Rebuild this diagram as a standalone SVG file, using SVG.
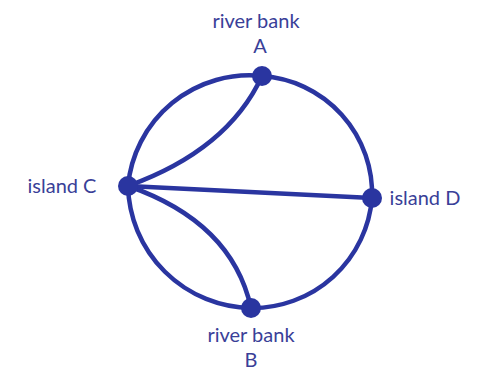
<svg xmlns="http://www.w3.org/2000/svg" width="487" height="377" viewBox="0 0 487 377">
<style>
.e{fill:none;stroke:#2a35a0;stroke-width:4.5;stroke-linecap:round}
.n{fill:#2a35a0}
.t{font-family:"Lato","Noto Sans",sans-serif;font-size:20px;fill:#3a3f98;text-anchor:middle}
</style>
<rect width="487" height="377" fill="#fff"/>
<g id="connectors">
<path class="e" d="M262,76 A122,122 0 0 0 128,186"/>
<path class="e" d="M128,186 Q228,150 262,76"/>
<path class="e" d="M262,76 A118,118 0 0 1 372,198"/>
<path class="e" d="M128,186 L372,198"/>
<path class="e" d="M372,198 A120,120 0 0 1 251,308"/>
<path class="e" d="M128,186 Q232,222 251,308"/>
<path class="e" d="M128,186 A125,125 0 0 0 251,308"/>
</g>
<g id="A"><circle class="n" cx="262" cy="76" r="10"/><text class="t" x="256" y="28">river bank</text><text class="t" x="260" y="53">A</text></g>
<g id="C"><circle class="n" cx="128" cy="186" r="10"/><text class="t" x="62" y="193">island C</text></g>
<g id="D"><circle class="n" cx="372" cy="198" r="10"/><text class="t" x="425" y="205">island D</text></g>
<g id="B"><circle class="n" cx="251" cy="308" r="10"/><text class="t" x="251" y="342">river bank</text><text class="t" x="251" y="367">B</text></g>
</svg>
